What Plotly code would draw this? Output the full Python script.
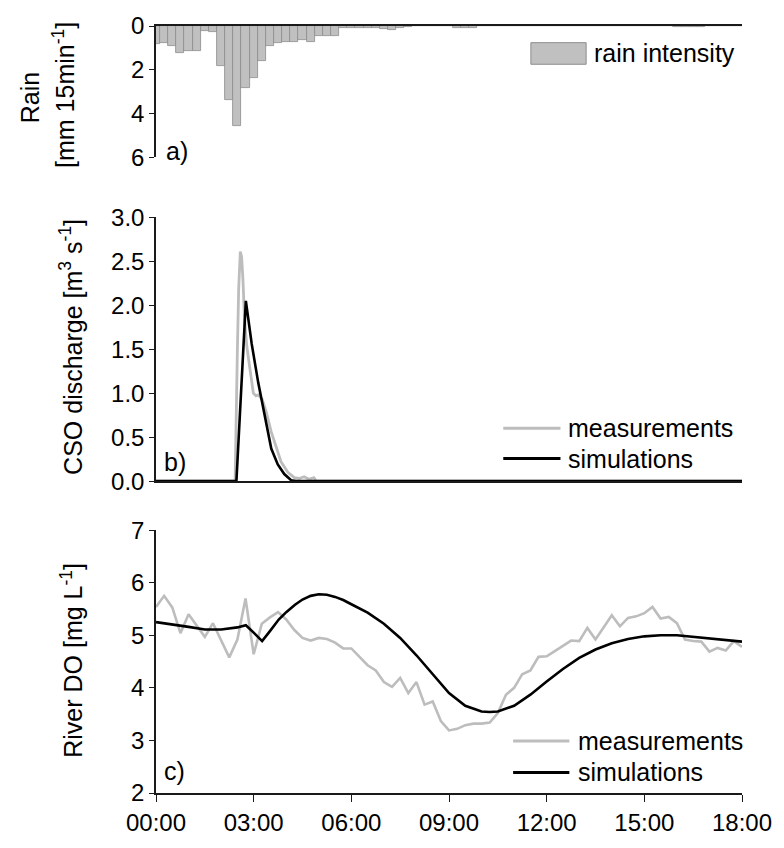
import plotly.graph_objects as go

# ---------------- data ----------------
rain_hours = [i * 0.25 for i in range(73)]
rain_mm = [0.83, 0.76, 0.90, 1.21, 1.12, 1.16, 0.25, 0.27, 1.82, 3.36, 4.56, 2.82,
           2.38, 1.60, 0.93, 0.79, 0.74, 0.71, 0.64, 0.72, 0.44, 0.44, 0.44,
           0.07, 0.07, 0.07, 0.07, 0.07, 0.15, 0.18, 0.10, 0.05,
           0, 0, 0, 0, 0,
           0.08, 0.08, 0.08,
           0, 0, 0, 0, 0, 0, 0, 0, 0, 0, 0, 0, 0, 0, 0, 0, 0, 0, 0, 0, 0, 0, 0, 0,
           0.06, 0.06, 0.06, 0.03,
           0, 0, 0, 0, 0]

cso_meas_t = [0, 2.43, 2.50, 2.54, 2.59, 2.63, 2.67, 2.72, 2.79, 2.89, 2.99, 3.07, 3.14,
              3.26, 3.39, 3.54, 3.69, 3.84, 4.05, 4.25, 4.40, 4.55, 4.70, 4.85, 4.92, 18]
cso_meas_q = [0, 0, 1.5, 2.19, 2.61, 2.55, 2.3, 1.83, 1.53, 1.23, 1.0, 0.97, 0.98,
              0.93, 0.78, 0.56, 0.38, 0.22, 0.10, 0.04, 0.03, 0.05, 0.02, 0.04, 0.0, 0.0]
cso_sim_t = [0, 2.47, 2.76, 2.94, 3.14, 3.34, 3.54, 3.74, 3.94, 4.15, 4.3, 18]
cso_sim_q = [0, 0, 2.05, 1.56, 1.12, 0.75, 0.37, 0.19, 0.08, 0.01, 0, 0]

do_meas_t = [i * 0.25 for i in range(73)]
do_meas = [5.54, 5.75, 5.53, 5.04, 5.40, 5.18, 4.97, 5.23, 4.90, 4.58, 4.92, 5.70,
           4.64, 5.22, 5.34, 5.44, 5.30, 5.10, 4.95, 4.90, 4.95, 4.93, 4.86, 4.75,
           4.75, 4.58, 4.43, 4.33, 4.11, 4.02, 4.19, 3.90, 4.11, 3.68, 3.74, 3.37,
           3.19, 3.22, 3.29, 3.32, 3.32, 3.34, 3.52, 3.87, 4.00, 4.26, 4.33, 4.59,
           4.60, 4.70, 4.80, 4.90, 4.89, 5.14, 4.92, 5.14, 5.38, 5.17, 5.33, 5.36,
           5.42, 5.54, 5.32, 5.35, 5.23, 4.92, 4.89, 4.88, 4.69, 4.76, 4.71, 4.89, 4.78]
do_sim_t = [0, 0.5, 1.0, 1.5, 2.0, 2.5, 2.76, 3.0, 3.26, 3.5, 3.77, 4.0, 4.27, 4.5,
            4.75, 5.0, 5.25, 5.5, 5.75, 6.0, 6.5, 7.0, 7.5, 8.0, 8.5, 9.0, 9.5, 10.0,
            10.25, 10.5, 11.0, 11.5, 12.0, 12.5, 13.0, 13.5, 14.0, 14.5, 15.0, 15.5,
            16.0, 16.5, 17.0, 17.5, 18.0]
do_sim = [5.25, 5.21, 5.16, 5.11, 5.11, 5.15, 5.19, 5.05, 4.89, 5.08, 5.30, 5.44, 5.58,
          5.68, 5.75, 5.78, 5.77, 5.73, 5.67, 5.59, 5.43, 5.22, 4.95, 4.62, 4.25, 3.90,
          3.66, 3.55, 3.54, 3.55, 3.66, 3.87, 4.12, 4.36, 4.57, 4.73, 4.85, 4.93, 4.98,
          5.00, 5.00, 4.97, 4.94, 4.91, 4.88]

tick_hours = [0, 3, 6, 9, 12, 15, 18]
tick_labels = ["00:00", "03:00", "06:00", "09:00", "12:00", "15:00", "18:00"]

# ---------------- layout helpers ----------------
W, H = 784, 848
ML, MR, MT, MB = 156, 34, 23, 43
PW, PH = W - ML - MR, H - MT - MB


def px(x):
    return (x - ML) / PW


def py(y):
    return (H - MB - y) / PH


FONT = "Liberation Sans, Arial, sans-serif"
GRAY_BAR = "#c0c0c0"
GRAY_LINE = "#bdbdbd"
AXC = "#1a1a1a"

fig = go.Figure()
fig.add_trace(go.Bar(x=rain_hours, y=rain_mm, width=0.25, xaxis="x", yaxis="y",
                     marker=dict(color=GRAY_BAR, line=dict(color="#8c8c8c", width=0.8)),
                     showlegend=False))
fig.add_trace(go.Scatter(x=cso_meas_t, y=cso_meas_q, mode="lines", xaxis="x2", yaxis="y2",
                         line=dict(color=GRAY_LINE, width=2.8), showlegend=False))
fig.add_trace(go.Scatter(x=cso_sim_t, y=cso_sim_q, mode="lines", xaxis="x2", yaxis="y2",
                         line=dict(color="black", width=2.6), showlegend=False))
fig.add_trace(go.Scatter(x=do_meas_t, y=do_meas, mode="lines", xaxis="x3", yaxis="y3",
                         line=dict(color=GRAY_LINE, width=2.6), showlegend=False))
fig.add_trace(go.Scatter(x=do_sim_t, y=do_sim, mode="lines", xaxis="x3", yaxis="y3",
                         line=dict(color="black", width=2.6), showlegend=False))

ax_common = dict(showgrid=False, zeroline=False, showline=True, linecolor=AXC, linewidth=1.5,
                 tickfont=dict(family=FONT, size=24, color="black"))

ya = py(157)
yb_top, yb_bot = py(218), py(487)
yc_top = py(537)

fig.update_layout(
    width=W, height=H, margin=dict(l=ML, r=MR, t=MT, b=MB),
    paper_bgcolor="white", plot_bgcolor="white", bargap=0,
    xaxis=dict(**ax_common, domain=[0, 1], range=[0, 18], anchor="y", side="top",
               showticklabels=False, ticks=""),
    yaxis=dict(**ax_common, domain=[ya, 1], range=[6, 0], tickvals=[0, 2, 4, 6],
               ticks="outside", ticklen=5, tickcolor=AXC, anchor="x"),
    xaxis2=dict(**ax_common, domain=[0, 1], range=[0, 18], anchor="y2",
                showticklabels=False, ticks=""),
    yaxis2=dict(**ax_common, domain=[yb_bot, yb_top], range=[0, 3],
                tickvals=[0, 0.5, 1, 1.5, 2, 2.5, 3], tickformat=".1f",
                ticks="outside", ticklen=5, tickcolor=AXC, anchor="x2"),
    xaxis3=dict(**ax_common, domain=[0, 1], range=[0, 18], anchor="y3",
                tickvals=tick_hours, ticktext=tick_labels,
                ticks="outside", ticklen=7, tickcolor=AXC),
    yaxis3=dict(**ax_common, domain=[0, yc_top], range=[2, 7], tickvals=[2, 3, 4, 5, 6, 7],
                ticks="outside", ticklen=5, tickcolor=AXC, anchor="x3"),
)

ann = []
shapes = []


def text(x, y, s, size=25, angle=0, xanchor="left"):
    ann.append(dict(x=px(x), y=py(y), xref="paper", yref="paper", text=s, showarrow=False,
                    xanchor=xanchor, yanchor="middle", textangle=angle,
                    font=dict(family=FONT, size=size, color="black")))


# axis titles
text(28, 96, "Rain", angle=-90, xanchor="center")
text(62, 93, "[mm 15min<sup>-1</sup>]", angle=-90, xanchor="center")
text(70, 350, "CSO discharge [m<sup>3</sup> s<sup>-1</sup>]", angle=-90, xanchor="center")
text(70, 670, "River DO [mg L<sup>-1</sup>]", angle=-90, xanchor="center")

# panel labels
text(164, 150, "a)")
text(162, 468, "b)")
text(162, 783, "c)")

# legend a
shapes.append(dict(type="rect", xref="paper", yref="paper", x0=px(536), x1=px(592),
                   y0=py(62), y1=py(40), fillcolor=GRAY_BAR,
                   line=dict(color="#8c8c8c", width=1)))
text(598, 51, "rain intensity")

# legend b
for yy, col in [(433, GRAY_LINE), (464, "black")]:
    shapes.append(dict(type="line", xref="paper", yref="paper", x0=px(508), x1=px(566),
                       y0=py(yy), y1=py(yy), line=dict(color=col, width=3)))
text(572, 433, "measurements")
text(572, 464, "simulations")

# legend c
for yy, col in [(752, GRAY_LINE), (784, "black")]:
    shapes.append(dict(type="line", xref="paper", yref="paper", x0=px(518), x1=px(575),
                       y0=py(yy), y1=py(yy), line=dict(color=col, width=3)))
text(582, 752, "measurements")
text(582, 784, "simulations")

fig.update_layout(annotations=ann, shapes=shapes)
fig.write_html("out.html")
